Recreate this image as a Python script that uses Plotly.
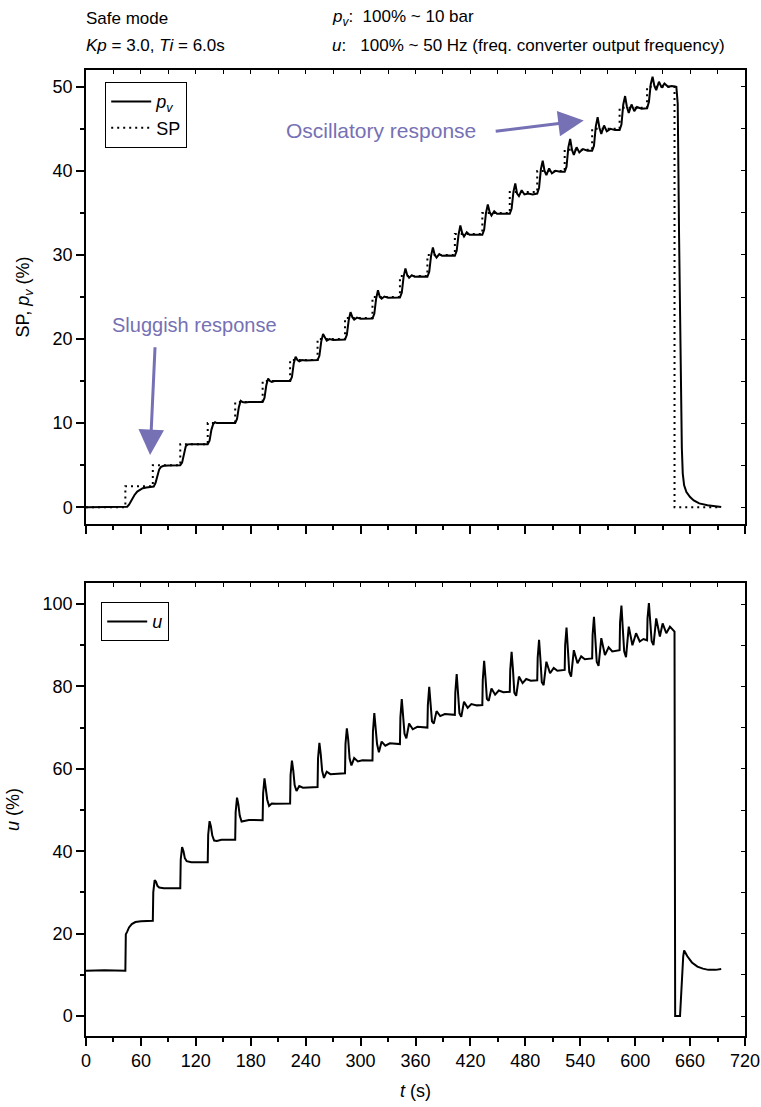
import plotly.graph_objects as go

# ---------------- data ----------------
sp_t = [0, 43, 73, 103, 133, 163, 193, 223, 253, 283, 313, 343, 373, 403, 433,
        463, 493, 523, 553, 583, 613, 643, 694]
sp_val = [0, 2.5, 5, 7.5, 10, 12.5, 15, 17.5, 20, 22.5, 25, 27.5, 30, 32.5, 35,
          37.5, 40, 42.5, 45, 47.5, 50, 0, 0]

pv_t = [0, 43, 45, 47, 50, 53, 56, 59, 62, 66, 70, 74,
        76, 78, 80, 82, 85, 90, 103,
        105, 107, 109, 111, 114, 133,
        135, 137, 139, 141, 143, 147, 163,
        165, 167, 169, 171, 174, 178, 193,
        195, 197, 199, 201, 203, 206, 210, 223,
        225, 227, 229, 231, 233, 236, 240, 253,
        255, 257, 259, 261, 263, 266, 270, 283,
        285, 287, 289, 291, 293, 296, 300, 313,
        315, 317, 319, 321, 323, 326, 330, 343,
        345, 347, 349, 351, 353, 356, 359, 365, 373,
        375, 377, 379, 381, 383, 386, 389, 395, 403,
        405, 407, 409, 411, 413, 416, 419, 425, 433,
        435, 437, 439, 441, 443, 446, 449, 455, 463,
        465, 467, 469, 471, 473, 476, 479, 483, 488, 493,
        495, 497, 499, 501, 503, 506, 509, 513, 518, 523,
        525, 527, 529, 531, 533, 536, 539, 543, 548, 553,
        555, 557, 559, 561, 563, 566, 569, 573, 578, 583,
        585, 587, 589, 591, 593, 596, 599, 602, 607, 613,
        615, 617, 619, 621, 623, 626, 629, 632, 636, 640, 645,
        646.5, 648, 649, 650, 651, 652, 653.5, 656, 660, 664, 670, 679, 686, 694]
pv_val = [0, 0, 0.05, 0.3, 0.9, 1.45, 1.85, 2.1, 2.25, 2.35, 2.4, 2.45,
          2.9, 3.9, 4.5, 4.8, 4.93, 4.97, 5.0,
          5.3, 6.5, 7.25, 7.45, 7.5, 7.5,
          7.9, 9.2, 9.9, 10.1, 10.0, 10.0, 10.0,
          10.5, 11.9, 12.65, 12.5, 12.45, 12.5, 12.5,
          13.0, 14.5, 15.3, 15.0, 14.9, 15.0, 15.0, 15.0,
          15.5, 17.1, 17.9, 17.5, 17.35, 17.5, 17.45, 17.5,
          18.0, 19.7, 20.6, 20.1, 19.8, 20.0, 19.9, 19.95,
          20.5, 22.2, 23.2, 22.6, 22.3, 22.55, 22.4, 22.45,
          23.0, 24.8, 25.8, 25.0, 24.8, 25.05, 24.9, 24.95,
          25.5, 27.4, 28.4, 27.6, 27.3, 27.6, 27.4, 27.45, 27.4,
          28.0, 29.9, 30.9, 30.0, 29.7, 30.1, 29.9, 29.95, 29.9,
          30.5, 32.4, 33.5, 32.6, 32.2, 32.7, 32.4, 32.4, 32.4,
          33.0, 35.0, 36.0, 35.1, 34.7, 35.2, 34.9, 34.9, 34.9,
          35.5, 37.5, 38.5, 37.3, 37.0, 37.7, 37.2, 37.3, 37.2, 37.3,
          38.0, 40.2, 41.2, 40.0, 39.5, 40.3, 39.7, 40.0, 39.9, 39.9,
          40.5, 42.8, 43.8, 42.5, 41.9, 42.8, 42.2, 42.6, 42.4, 42.4,
          43.0, 45.3, 46.4, 45.1, 44.4, 45.4, 44.7, 45.0, 44.85, 44.85,
          45.5, 47.9, 48.9, 47.6, 46.9, 47.9, 47.1, 47.6, 47.4, 47.45,
          48.2, 50.3, 51.2, 50.1, 49.6, 50.6, 49.9, 50.4, 50.0, 50.1, 50.0,
          48.0, 32.0, 22.0, 13.0, 7.0, 4.0, 2.6, 1.8, 1.2, 0.8, 0.45, 0.24, 0.1, 0.02]

u_t = [0, 20, 43,
       43.5, 45, 47, 50, 54, 60, 73,
       73.5, 75, 76.5, 78, 80, 85, 103,
       103.5, 105, 106.5, 108, 110, 115, 133,
       133.5, 135, 136.5, 138, 140, 143, 148, 163,
       163.5, 165, 166.5, 168, 170, 173, 178, 193,
       193.5, 195, 196.5, 198, 200, 203, 207, 223,
       223.5, 225, 226.5, 228, 230, 233, 237, 253,
       253.5, 255, 256.5, 258, 260, 263, 267, 283,
       283.5, 285, 286.5, 288, 290, 293, 297, 302, 313,
       313.5, 315, 316.5, 318, 320, 323, 327, 332, 343,
       343.5, 345, 346.5, 348, 350, 353, 357, 362, 373,
       373.5, 375, 376.5, 378, 380, 383, 387, 392, 403,
       403.5, 405, 406.5, 408, 410, 413, 417, 421, 427, 433,
       433.5, 435, 436.5, 438, 440, 443, 447, 451, 456, 463,
       463.5, 465, 466.5, 468, 470, 473, 477, 481, 486, 493,
       493.5, 495, 496.5, 498, 500, 503, 507, 511, 515, 523,
       523.5, 525, 526.5, 528, 530, 533, 537, 541, 545, 553,
       553.5, 555, 556.5, 558, 560, 563, 567, 571, 575, 583,
       583.5, 585, 586.5, 588, 590, 593, 597, 601, 605, 609, 613,
       613.5, 615, 616.5, 618, 620, 623, 627, 630, 634, 638, 643,
       643.7, 649, 650.5, 652.5, 653.5, 657, 662, 668, 674, 680, 688, 694]
u_val = [11.0, 11.1, 11.0,
         19.8, 20.5, 21.5, 22.3, 22.8, 23.0, 23.1,
         30.0, 33.0, 32.6, 31.6, 31.2, 31.0, 31.0,
         38.0, 41.0, 40.0, 38.3, 37.6, 37.3, 37.3,
         44.0, 47.3, 46.0, 43.8, 42.6, 42.5, 42.8, 42.8,
         49.5, 53.0, 51.3, 48.6, 47.2, 47.4, 47.6, 47.5,
         54.0, 57.7, 55.5, 52.5, 51.0, 51.6, 51.5, 51.6,
         58.5, 62.0, 59.5, 56.0, 54.6, 55.8, 55.4, 55.6,
         62.5, 66.3, 63.5, 59.5, 57.8, 59.3, 58.7, 58.9,
         66.0, 69.8, 67.0, 62.5, 60.8, 62.6, 61.8, 62.1, 62.0,
         69.0, 73.5, 70.5, 66.0, 64.0, 66.6, 65.6, 66.2, 66.0,
         72.5, 76.9, 73.5, 68.5, 67.4, 71.0, 69.6, 70.2, 70.0,
         75.5, 79.9, 76.5, 71.5, 71.0, 74.0, 72.8, 73.3, 73.1,
         78.5, 83.0, 79.0, 73.5, 72.6, 76.3, 74.8, 75.7, 75.4, 75.5,
         81.5, 86.2, 82.0, 77.0, 76.5, 79.5, 78.0, 79.0, 78.6, 78.7,
         84.0, 88.4, 84.0, 78.5, 77.7, 82.4, 80.8, 81.8, 81.4, 81.5,
         87.0, 91.3, 86.5, 81.0, 80.3, 86.0, 83.2, 84.5, 83.8, 84.0,
         90.0, 94.3, 89.0, 83.5, 82.4, 88.8, 85.6, 87.3, 86.6, 86.8,
         92.5, 96.9, 91.5, 86.0, 85.0, 91.7, 87.6, 89.5, 88.5, 88.8,
         95.5, 99.6, 94.0, 88.5, 87.1, 94.5, 90.0, 92.9, 90.9, 91.5, 91.2,
         96.5, 100.2, 95.0, 91.0, 90.0, 96.5, 92.1, 95.3, 92.9, 94.5, 93.3,
         0.0, 0.0, 8.0, 14.5, 15.9, 14.5, 13.0, 12.0, 11.5, 11.2, 11.2, 11.4]

x_ticks = [0, 60, 120, 180, 240, 300, 360, 420, 480, 540, 600, 660, 720]
y1_ticks = [0, 10, 20, 30, 40, 50]
y2_ticks = [0, 20, 40, 60, 80, 100]

# ---------------- styling ----------------
FONT = "Liberation Sans, Arial, sans-serif"
PURPLE = "#7670B4"
W, H = 761, 1107
L, R, T, B = 86, 16, 70, 71
TOP_BOTTOM_PX = 524
BOT_TOP_PX = 583
plot_h = H - T - B
d_top = [(H - B - TOP_BOTTOM_PX) / plot_h, 1.0]
d_bot = [0.0, (H - B - BOT_TOP_PX) / plot_h]


def py(px):
    return (H - B - px) / plot_h


def pxx(px):
    return (px - L) / (W - L - R)


fig = go.Figure()

fig.add_trace(go.Scatter(x=pv_t, y=pv_val, mode="lines", name="<i>p</i><sub><i>v</i></sub>",
                         line=dict(color="black", width=2), xaxis="x", yaxis="y", legend="legend"))
fig.add_trace(go.Scatter(x=sp_t, y=sp_val, mode="lines", name="SP", line_shape="hv",
                         line=dict(color="black", width=2, dash="2px,4px"),
                         xaxis="x", yaxis="y", legend="legend"))
fig.add_trace(go.Scatter(x=u_t, y=u_val, mode="lines", name="<i>u</i>",
                         line=dict(color="black", width=2), xaxis="x2", yaxis="y2", legend="legend2"))
# carriers for the inward ticks on top / right edges
fig.add_trace(go.Scatter(x=[None], y=[None], xaxis="x3", yaxis="y3", showlegend=False, hoverinfo="skip"))
fig.add_trace(go.Scatter(x=[None], y=[None], xaxis="x4", yaxis="y4", showlegend=False, hoverinfo="skip"))

tickfont = dict(family=FONT, size=18, color="black")
common_x = dict(range=[0, 720], showline=True, linecolor="black", linewidth=1.5, automargin=False,
                ticks="outside", ticklen=8, tickwidth=1.5, tickcolor="black",
                tickvals=x_ticks, showgrid=False, zeroline=False,
                minor=dict(dtick=30, tick0=0, ticks="outside", ticklen=4, tickwidth=1.5, tickcolor="black"),
                tickfont=tickfont)
common_y = dict(showline=True, linecolor="black", linewidth=1.5, automargin=False,
                ticks="outside", ticklen=8, tickwidth=1.5, tickcolor="black",
                showgrid=False, zeroline=False, tickfont=tickfont)
inner = dict(ticks="inside", ticklen=4, tickwidth=1.2, tickcolor="black", automargin=False,
             showticklabels=False, showgrid=False, zeroline=False, showline=False)

fig.update_layout(
    width=W, height=H,
    margin=dict(l=L, r=R, t=T, b=B, autoexpand=False),
    paper_bgcolor="white", plot_bgcolor="white",
    font=dict(family=FONT, size=18, color="black"),
    xaxis=dict(**common_x, domain=[0, 1], anchor="y", showticklabels=False, mirror=True),
    yaxis=dict(**common_y, domain=d_top, anchor="x", range=[-2.0, 52.0], tickvals=y1_ticks, mirror=True,
               minor=dict(dtick=5, tick0=0, ticks="outside", ticklen=4, tickwidth=1.5, tickcolor="black"),
               title=dict(text="SP, <i>p</i><sub><i>v</i></sub> (%)", font=dict(family=FONT, size=18), standoff=18)),
    xaxis2=dict(**common_x, domain=[0, 1], anchor="y2", mirror=True,
                title=dict(text="<i>t</i> (s)", font=dict(family=FONT, size=18), standoff=14)),
    yaxis2=dict(**common_y, domain=d_bot, anchor="x2", range=[-4.85, 105.1], tickvals=y2_ticks, mirror=True,
                minor=dict(dtick=10, tick0=0, ticks="outside", ticklen=4, tickwidth=1.5, tickcolor="black"),
                title=dict(text="<i>u</i> (%)", font=dict(family=FONT, size=18), standoff=18)),
    xaxis3=dict(**inner, overlaying="x", side="top", anchor="y3", range=[0, 720], dtick=30, tick0=0),
    yaxis3=dict(**inner, overlaying="y", side="right", anchor="x3", range=[-2.0, 52.0], dtick=5, tick0=0),
    xaxis4=dict(**inner, overlaying="x2", side="top", anchor="y4", range=[0, 720], dtick=30, tick0=0),
    yaxis4=dict(**inner, overlaying="y2", side="right", anchor="x4", range=[-4.85, 105.1], dtick=10, tick0=0),
    legend=dict(x=pxx(105), y=py(82), xanchor="left", yanchor="top",
                bordercolor="black", borderwidth=1.2, bgcolor="white",
                font=dict(family=FONT, size=18), tracegroupgap=0, itemwidth=40),
    legend2=dict(x=pxx(101), y=py(602), xanchor="left", yanchor="top",
                 bordercolor="black", borderwidth=1.2, bgcolor="white",
                 font=dict(family=FONT, size=18), itemwidth=40),
    showlegend=True,
)

ann = []
hdr = dict(family=FONT, size=17, color="black")
ann.append(dict(xref="paper", yref="paper", x=pxx(84), y=py(18), xanchor="left", yanchor="middle",
                text="Safe mode", showarrow=False, font=hdr))
ann.append(dict(xref="paper", yref="paper", x=pxx(84), y=py(45), xanchor="left", yanchor="middle",
                text="<i>Kp</i> = 3.0, <i>Ti</i> = 6.0s", showarrow=False, font=hdr))
ann.append(dict(xref="paper", yref="paper", x=pxx(330), y=py(18), xanchor="left", yanchor="middle",
                text="<i>p</i><sub><i>v</i></sub>:\u00a0\u00a0100% ~ 10 bar", showarrow=False, font=hdr))
ann.append(dict(xref="paper", yref="paper", x=pxx(330), y=py(45), xanchor="left", yanchor="middle",
                text="<i>u</i>:\u00a0\u00a0\u00a0100% ~ 50 Hz (freq. converter output frequency)",
                showarrow=False, font=hdr))
# purple call-outs
ann.append(dict(xref="x", yref="y", x=322, y=44.8, text="Oscillatory response", showarrow=False,
                font=dict(family=FONT, size=21, color=PURPLE)))
ann.append(dict(xref="x", yref="y", x=118, y=21.7, text="Sluggish response", showarrow=False,
                font=dict(family=FONT, size=20, color=PURPLE)))
ann.append(dict(xref="x", yref="y", x=543.8, y=46.0, axref="x", ayref="y", ax=446, ay=44.7, text="",
                showarrow=True, arrowhead=2, arrowsize=1.7, arrowwidth=3, arrowcolor=PURPLE))
ann.append(dict(xref="x", yref="y", x=70, y=6.2, axref="x", ayref="y", ax=75.5, ay=19.2, text="",
                showarrow=True, arrowhead=2, arrowsize=1.7, arrowwidth=3, arrowcolor=PURPLE))
fig.update_layout(annotations=ann)

fig.write_html("out.html")
